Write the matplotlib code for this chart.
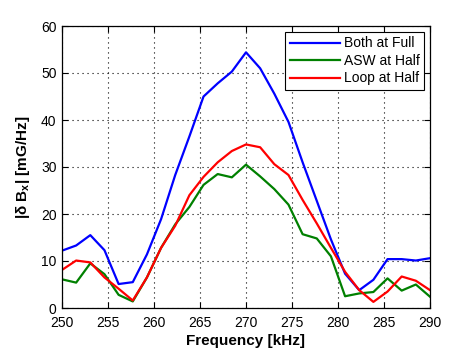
import numpy as np
import matplotlib
matplotlib.use("Agg")
import matplotlib.pyplot as plt

plt.rcParams['font.family'] = ['Liberation Sans', 'DejaVu Sans']
plt.rcParams['mathtext.fontset'] = 'custom'
plt.rcParams['mathtext.rm'] = 'Liberation Sans'
plt.rcParams['mathtext.bf'] = 'Liberation Sans:bold'

freq = np.linspace(250, 290, 27)
both_full = [12.2, 13.3, 15.5, 12.3, 5.1, 5.5, 11.4, 18.9, 28.3, 36.5, 45.0, 47.8, 50.3,
             54.4, 51.0, 45.6, 39.6, 31.0, 22.8, 14.6, 7.3, 3.8, 6.0, 10.4, 10.4, 10.1, 10.6]
asw_half = [6.1, 5.4, 9.5, 7.2, 2.8, 1.4, 6.5, 12.8, 17.8, 21.5, 26.2, 28.5, 27.8,
            30.5, 28.0, 25.3, 22.0, 15.7, 14.8, 11.0, 2.5, 3.1, 3.4, 6.3, 3.7, 5.0, 2.4]
loop_half = [8.1, 10.1, 9.7, 6.5, 4.1, 1.6, 6.5, 12.8, 17.5, 24.0, 27.9, 31.0, 33.4,
             34.8, 34.2, 30.6, 28.3, 23.0, 18.0, 12.8, 7.7, 3.8, 1.3, 3.5, 6.7, 5.8, 3.8]
labels = ['Both at Full', 'ASW at Half', 'Loop at Half']
colors = ['#0000ff', '#008000', '#ff0000']

fig = plt.figure(figsize=(4.75, 3.48), dpi=100)
ax = fig.add_axes([62/475, 40/348, 368/475, 282/348])

for y, lab, c in zip([both_full, asw_half, loop_half], labels, colors):
    ax.plot(freq, y, color=c, lw=1.6, label=lab)

ax.set_xlim(250, 290)
ax.set_ylim(0, 60)
ax.set_xticks(np.arange(250, 291, 5))
ax.set_yticks(np.arange(0, 61, 10))
ax.grid(True, color='black', linestyle=(0, (1, 3.5)), linewidth=0.8)
ax.tick_params(direction='in', top=True, right=True, labelsize=10, length=4, width=0.8)
ax.tick_params(axis='x', pad=5.5)
ax.tick_params(axis='y', pad=4)
for s in ax.spines.values():
    s.set_linewidth(0.9)

ax.set_xlabel('Frequency [kHz]', fontsize=11, fontweight='bold', labelpad=3)
ax.set_ylabel(r'|δ B$_\mathbf{x}$| [mG/Hz]', fontsize=11, fontweight='bold', labelpad=6)

leg = ax.legend(loc='upper right', fontsize=10, frameon=True, fancybox=False,
                edgecolor='black', framealpha=1, handlelength=3.6, borderpad=0.3,
                labelspacing=0.25, handletextpad=0.3, borderaxespad=0.45)
leg.get_frame().set_linewidth(0.8)

fig.savefig('out.png', dpi=100, facecolor='white')
